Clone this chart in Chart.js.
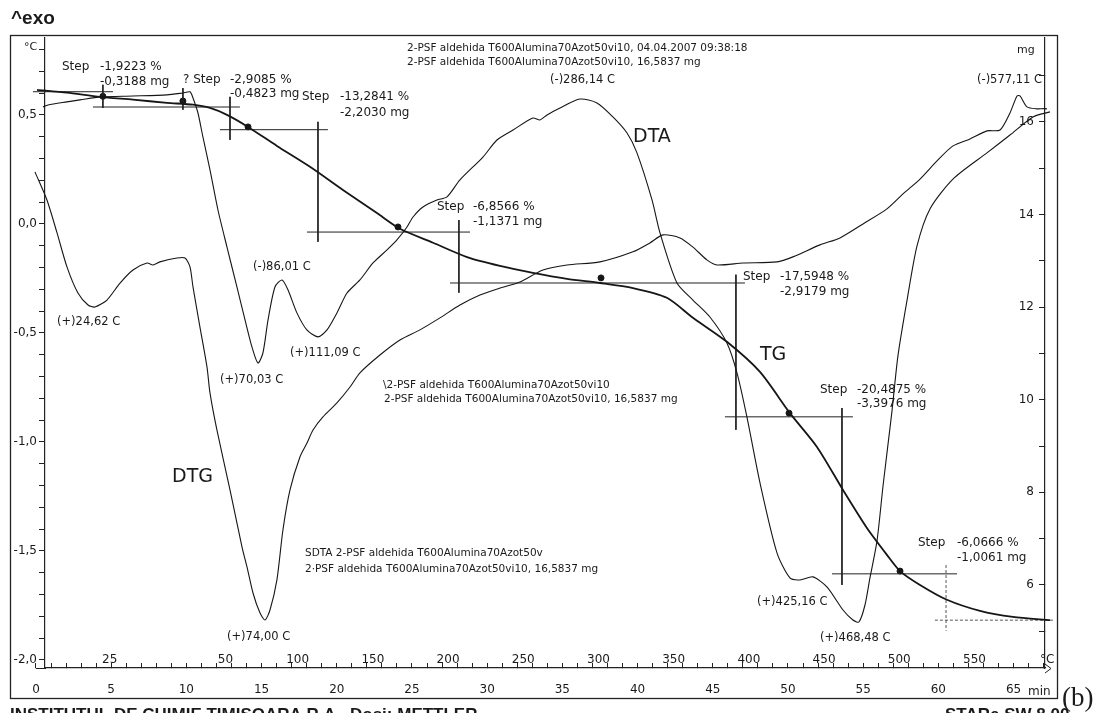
<!DOCTYPE html>
<html><head><meta charset="utf-8">
<script src="https://cdn.jsdelivr.net/npm/chart.js@4"></script>
<style>html,body{margin:0;padding:0;background:#fff}#wrap{width:1102px;height:713px;position:relative}</style>
</head><body><div id="wrap"><canvas id="c"></canvas></div>
<script>
// DTA (°C, left axis) vs time in min
const dtaTime = [0.47,0.80,2.06,2.93,4.26,6.45,8.71,9.77,10.24,10.44,10.77,11.10,11.57,12.10,12.70,13.36,13.90,14.36,14.76,15.09,15.43,15.89,16.36,16.76,17.35,18.01,18.75,19.35,20.01,20.68,21.54,22.41,23.34,24.00,24.67,25.07,25.73,26.66,27.33,28.19,29.72,30.65,31.72,33.04,33.51,33.98,34.84,36.17,37.30,38.36,39.30,39.96,40.96,41.49,42.62,43.68,44.81,45.94,46.61,47.27,48.14,49.27,50.13,50.80,51.66,52.59,53.66,54.32,54.72,55.12,55.45,55.92,56.32,56.91,57.31,57.91,58.58,59.44,60.97,63.23,64.76,66.29,67.42];
const dtaVal = [0.537,0.546,0.560,0.569,0.583,0.587,0.592,0.601,0.606,0.578,0.509,0.399,0.248,0.064,-0.106,-0.289,-0.440,-0.564,-0.638,-0.592,-0.440,-0.289,-0.257,-0.303,-0.408,-0.486,-0.518,-0.486,-0.408,-0.317,-0.257,-0.179,-0.119,-0.073,-0.014,0.032,0.078,0.110,0.124,0.202,0.307,0.385,0.431,0.486,0.477,0.500,0.532,0.573,0.555,0.491,0.417,0.326,0.110,-0.041,-0.271,-0.349,-0.427,-0.546,-0.683,-0.885,-1.188,-1.509,-1.624,-1.633,-1.619,-1.665,-1.771,-1.817,-1.826,-1.748,-1.624,-1.454,-1.202,-0.862,-0.606,-0.353,-0.101,0.069,0.206,0.326,0.408,0.491,0.514];
// DTG (left axis)
const dtgTime = [-0.07,0.73,1.40,2.06,2.79,3.46,3.92,4.72,5.59,6.45,7.38,7.78,8.24,9.38,9.91,10.24,10.44,10.90,11.37,11.57,12.03,12.90,13.70,14.03,14.43,14.89,15.23,15.56,16.02,16.42,16.89,17.55,18.02,18.42,19.08,20.01,20.88,21.54,22.87,24.20,25.53,26.86,28.19,29.52,30.85,32.18,33.71,35.31,37.50,39.69,40.82,41.69,42.82,43.68,44.61,45.28,47.01,49.27,50.33,52.13,53.46,54.99,56.58,57.65,58.78,59.91,60.97,62.10,63.23,64.10,64.76,65.23,65.43,65.89,66.56,67.22,67.62];
const dtgVal = [0.239,0.110,-0.041,-0.197,-0.317,-0.372,-0.381,-0.349,-0.271,-0.211,-0.179,-0.188,-0.174,-0.156,-0.156,-0.197,-0.289,-0.472,-0.656,-0.775,-0.945,-1.220,-1.482,-1.573,-1.693,-1.784,-1.817,-1.771,-1.633,-1.404,-1.220,-1.069,-1.005,-0.945,-0.885,-0.821,-0.748,-0.683,-0.601,-0.532,-0.486,-0.431,-0.372,-0.326,-0.294,-0.266,-0.211,-0.188,-0.174,-0.128,-0.087,-0.050,-0.064,-0.106,-0.165,-0.188,-0.179,-0.174,-0.151,-0.096,-0.064,0.000,0.069,0.138,0.206,0.289,0.358,0.390,0.427,0.431,0.509,0.587,0.587,0.537,0.528,0.528,0.509];
// TG (mg, right axis)
const tgTime = [0.07,2.06,4.26,6.45,8.71,10.44,11.57,12.70,14.10,16.02,18.22,20.41,22.67,24.20,26.40,28.66,30.85,33.04,35.31,37.50,39.69,41.95,43.68,45.94,48.14,50.13,51.93,53.66,55.25,56.58,57.45,58.78,60.57,62.77,64.96,67.42];
const tgVal = [16.69,16.63,16.54,16.48,16.41,16.37,16.30,16.15,15.89,15.48,15.03,14.53,14.03,13.69,13.39,13.08,12.89,12.74,12.61,12.52,12.41,12.20,11.77,11.25,10.60,9.71,8.98,8.05,7.23,6.65,6.30,6.00,5.68,5.44,5.31,5.24];
// step evaluation lines [t1, mg1, t2, mg2]
const stepLines = [[-0.2,16.65,5.12,16.65],[4.45,16.80,4.45,16.30],[9.77,16.73,9.77,16.26],[3.79,16.32,13.56,16.32],[12.90,16.54,12.90,15.61],[12.23,15.83,19.41,15.83],[18.75,16.00,18.75,13.41],[18.02,13.62,28.86,13.62],[28.12,13.88,28.12,12.31],[27.53,12.52,47.14,12.52],[46.54,12.70,46.54,9.35],[45.81,9.63,54.32,9.63],[53.59,9.82,53.59,6.00],[52.93,6.24,61.24,6.24]];
const stepDashed = [[60.51,6.43,60.51,5.01],[59.77,5.24,67.62,5.24]];
const markTime = [4.45,9.77,14.10,24.07,37.57,50.07,57.45,67.55];
const markMg = [16.55,16.45,15.89,13.73,12.63,9.71,6.30,5.29];
// temperature scale labels and the time they sit at
const tempLabels = ['25','50','100','150','200','250','300','350','400','450','500','550'];
const tempTicks = [4.9,12.6,17.4,22.4,27.4,32.4,37.4,42.4,47.4,52.4,57.4,62.4];
const minuteTicks = Array.from({length:68},(_, i)=>i);

const F = '"DejaVu Sans", Verdana, sans-serif';
const notes = [
  ['°C',24,47,11],['mg',1017,50,11],
  ['2-PSF aldehida T600Alumina70Azot50vi10, 04.04.2007 09:38:18',407,48,10.5],
  ['2-PSF aldehida T600Alumina70Azot50vi10, 16,5837 mg',407,62,10.5],
  ['(-)286,14 C',550,80,11.5],['(-)577,11 C',977,80,11.5],
  ['Step',62,67,12],['-1,9223 %',100,67,12],['-0,3188 mg',100,82,12],
  ['? Step',183,80,12],['-2,9085 %',230,80,12],['-0,4823 mg',230,94,12],
  ['Step',302,97,12],['-13,2841 %',340,97,12],['-2,2030 mg',340,113,12],
  ['Step',437,207,12],['-6,8566 %',473,207,12],['-1,1371 mg',473,222,12],
  ['Step',743,277,12],['-17,5948 %',780,277,12],['-2,9179 mg',780,292,12],
  ['Step',820,390,12],['-20,4875 %',857,390,12],['-3,3976 mg',857,404,12],
  ['Step',918,543,12],['-6,0666 %',957,543,12],['-1,0061 mg',957,558,12],
  ['(+)24,62 C',57,322,11.5],['(-)86,01 C',253,267,11.5],['(+)70,03 C',220,380,11.5],
  ['(+)111,09 C',290,353,11.5],['(+)74,00 C',227,637,11.5],['(+)425,16 C',757,602,11.5],
  ['(+)468,48 C',820,638,11.5],
  ['\\2-PSF aldehida T600Alumina70Azot50vi10',383,385,10.5],
  ['2-PSF aldehida T600Alumina70Azot50vi10, 16,5837 mg',384,399,10.5],
  ['SDTA 2-PSF aldehida T600Alumina70Azot50v',305,553,10.5],
  ['2·PSF aldehida T600Alumina70Azot50vi10, 16,5837 mg',305,569,10.5],
  ['DTA',633,137,19],['DTG',172,477,19],['TG',760,355,19],
  ['min',1028,692,12],['°C',1040,660,12]
];

function segs(list){ return list.flatMap(s => [{x:s[0],y:s[1]},{x:s[2],y:s[3]},{x:s[2],y:null}]); }
const pts = (ts, vs) => ts.map((t,i)=>({x:t,y:vs[i]}));

const decor = {
  id:'decor',
  afterDraw(chart){
    const ctx = chart.ctx, xs = chart.scales.x;
    ctx.save();
    ctx.strokeStyle = '#222'; ctx.lineWidth = 1.3;
    ctx.strokeRect(10.5, 35.5, 1047, 663);
    ctx.lineWidth = 1;
    ctx.beginPath(); ctx.moveTo(36,668.5); ctx.lineTo(46,668.5);
    ctx.moveTo(1045,664); ctx.lineTo(1051,668.5); ctx.lineTo(1045,673); ctx.stroke();
    ctx.fillStyle = '#1a1a1a'; ctx.textBaseline = 'middle'; ctx.textAlign = 'left';
    notes.forEach(([s,x,y,size]) => { ctx.font = size + 'px ' + F; ctx.fillText(s, x, y); });
    ctx.font = 'bold 19px "Liberation Sans", Arial, sans-serif';
    ctx.fillText('^exo', 11, 19);
    ctx.font = '27px "Liberation Serif", "Times New Roman", serif';
    ctx.fillText('(b)', 1062, 699);
    ctx.font = 'bold 17px "Liberation Sans", Arial, sans-serif'; ctx.textBaseline = 'top';
    ctx.fillText('INSTITUTUL DE CHIMIE TIMISOARA R.A.  Dosi: METTLER', 10, 707);
    ctx.fillText('STARe SW 8.00', 945, 707);
    ctx.textBaseline = 'middle'; ctx.textAlign = 'center'; ctx.font = '12px ' + F;
    tempLabels.forEach((l,i) => ctx.fillText(l, xs.getPixelForValue(tempTicks[i]), 660));
    ctx.restore();
  }
};

const ink = '#161616';
const line = {borderColor:ink, borderWidth:1.1, pointRadius:0, tension:0.25, clip:false, fill:false};
new Chart(document.getElementById('c'), {
  type:'line',
  data:{datasets:[
    Object.assign({label:'DTA', data:pts(dtaTime,dtaVal), yAxisID:'y'}, line),
    Object.assign({label:'DTG', data:pts(dtgTime,dtgVal), yAxisID:'y'}, line),
    Object.assign({label:'TG', data:pts(tgTime,tgVal), yAxisID:'y2'}, line, {borderWidth:1.8}),
    {label:'steps', data:segs(stepLines), yAxisID:'y2', borderColor:'#222', borderWidth:1, pointRadius:0, spanGaps:false, clip:false, tension:0},
    {label:'steps2', data:segs(stepDashed), yAxisID:'y2', borderColor:'#555', borderWidth:1, borderDash:[3,2], pointRadius:0, spanGaps:false, clip:false, tension:0},
    {label:'marks', data:pts(markTime,markMg), yAxisID:'y2', showLine:false, pointRadius:3, pointBackgroundColor:ink, pointBorderColor:ink, clip:false}
  ]},
  options:{
    responsive:true, maintainAspectRatio:false, animation:false,
    layout:{padding:{left:10,right:57,top:38,bottom:0}},
    plugins:{legend:{display:false}, tooltip:{enabled:false}},
    scales:{
      x:{type:'linear', min:0.6, max:67.09,
        afterBuildTicks:s=>{ s.ticks = minuteTicks.map(v=>({value:v})); },
        afterFit:s=>{ s.height = 45; },
        ticks:{autoSkip:false, maxRotation:0, padding:20, color:'#1a1a1a', font:{family:F,size:12},
          callback:v => (v%5===0 && v<=65) ? String(v) : ''},
        grid:{drawOnChartArea:false, tickLength:-5, color:'#222'},
        border:{color:'#222', width:1.2}},
      y:{position:'left', min:-2.037, max:0.853,
        afterFit:s=>{ s.width = 35; },
        ticks:{stepSize:0.1, includeBounds:false, padding:2, color:'#1a1a1a', font:{family:F,size:12},
          callback:v => { const r = Math.round(v*2); if (Math.abs(v*2-r) > 1e-6) return ''; const n = r/2; return Math.abs(n) < 1e-9 ? '0,0' : n.toFixed(1).replace('.', ','); }},
        grid:{drawOnChartArea:false, tickLength:6, color:'#222'},
        border:{color:'#222', width:1.2}},
      y2:{position:'right', min:4.207, max:17.81,
        afterFit:s=>{ s.width = 0; },
        ticks:{stepSize:1, includeBounds:false, mirror:true, padding:-11, color:'#1a1a1a', font:{family:F,size:12},
          callback:v => (Math.round(v)%2===0) ? String(Math.round(v)) : ''},
        grid:{drawOnChartArea:false, tickLength:-6, color:'#222'},
        border:{color:'#222', width:1.2}}
    }
  },
  plugins:[decor]
});
</script></body></html>
